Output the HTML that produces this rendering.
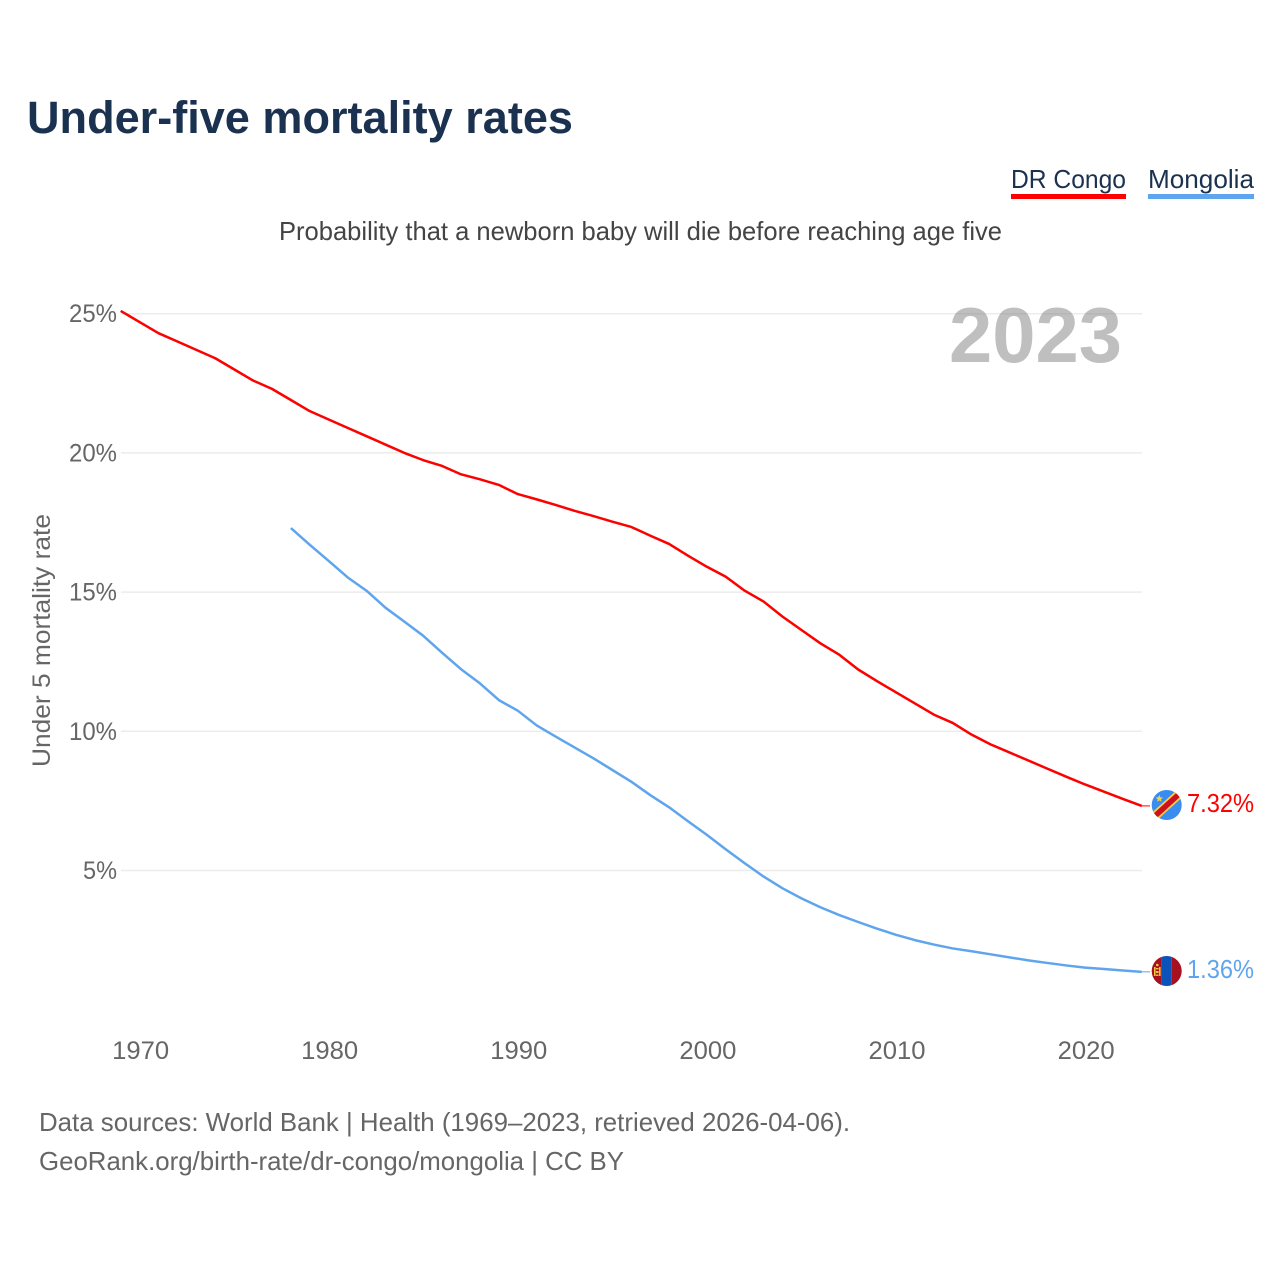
<!DOCTYPE html>
<html lang="en">
<head>
<meta charset="utf-8">
<title>Under-five mortality rates</title>
<style>
html,body{margin:0;padding:0;background:#fff;}
svg{display:block;font-family:"Liberation Sans",sans-serif;}
</style>
</head>
<body>
<svg id="chart" width="1280" height="1280" viewBox="0 0 1280 1280" xmlns="http://www.w3.org/2000/svg">
  <defs>
    <clipPath id="flag-clip-cd"><circle cx="1166.7" cy="805" r="15"/></clipPath>
    <clipPath id="flag-clip-mn"><circle cx="1166.7" cy="971" r="15"/></clipPath>
  </defs>
  <rect width="1280" height="1280" fill="#fff"/>
  <text x="27" y="133" font-size="45" font-weight="700" fill="#1a3150" textLength="546" lengthAdjust="spacingAndGlyphs">Under-five mortality rates</text>
  <g>
    <text x="1011" y="188" font-size="26" fill="#1a3150" textLength="115" lengthAdjust="spacingAndGlyphs">DR Congo</text>
    <rect x="1011" y="194" width="115" height="5" fill="#ff0000"/>
  </g>
  <g>
    <text x="1148" y="188" font-size="26" fill="#1a3150" textLength="106" lengthAdjust="spacingAndGlyphs">Mongolia</text>
    <rect x="1148" y="194" width="106" height="5" fill="#5fa5ee"/>
  </g>
  <text x="279" y="240" font-size="26" fill="#444" textLength="723" lengthAdjust="spacingAndGlyphs">Probability that a newborn baby will die before reaching age five</text>
  <text transform="translate(50,767) rotate(-90)" font-size="25" fill="#666" textLength="253" lengthAdjust="spacingAndGlyphs">Under 5 mortality rate</text>
  <g id="grid"></g>
  <g id="yticks"></g>
  <g id="xticks"></g>
  <text x="949" y="362" font-size="78" font-weight="700" fill="#808080" fill-opacity="0.5" textLength="173" lengthAdjust="spacingAndGlyphs">2023</text>
  <g id="series"></g>

  <g clip-path="url(#flag-clip-cd)">
    <rect x="1151" y="789" width="31" height="32" fill="#3b8cf0"/>
    <line x1="1150" y1="820.5" x2="1183" y2="790.5" stroke="#f7d23c" stroke-width="9"/>
    <line x1="1150" y1="820.5" x2="1183" y2="790.5" stroke="#ce1021" stroke-width="5.5"/>
    <polygon points="1159.3,794.8 1160.3,797.3 1163,797.5 1160.9,799.2 1161.6,801.8 1159.3,800.4 1157,801.8 1157.7,799.2 1155.6,797.5 1158.3,797.3" fill="#f7d23c"/>
  </g>
  <g clip-path="url(#flag-clip-mn)">
    <rect x="1151" y="956" width="10.7" height="30" fill="#a6101f"/>
    <rect x="1161.7" y="956" width="10" height="30" fill="#0b53b8"/>
    <rect x="1171.7" y="956" width="11" height="30" fill="#a6101f"/>
    <rect x="1154" y="967" width="1.6" height="9" fill="#f2c53d"/>
    <rect x="1159" y="967" width="1.6" height="9" fill="#f2c53d"/>
    <rect x="1156" y="968" width="2.6" height="1.4" fill="#f2c53d"/>
    <rect x="1156" y="971" width="2.6" height="2" fill="#f2c53d"/>
    <rect x="1156" y="974.5" width="2.6" height="1.4" fill="#f2c53d"/>
    <circle cx="1157.3" cy="965" r="1.3" fill="#f2c53d"/>
  </g>
  <text x="1187" y="812" font-size="26" fill="#ff0000" textLength="67" lengthAdjust="spacingAndGlyphs">7.32%</text>
  <text x="1187" y="978" font-size="26" fill="#5fa5ee" textLength="67" lengthAdjust="spacingAndGlyphs">1.36%</text>

  <text x="39" y="1131" font-size="26" fill="#666" textLength="811" lengthAdjust="spacingAndGlyphs">Data sources: World Bank | Health (1969–2023, retrieved 2026-04-06).</text>
  <text x="39" y="1170" font-size="26" fill="#666" textLength="585" lengthAdjust="spacingAndGlyphs">GeoRank.org/birth-rate/dr-congo/mongolia | CC BY</text>
</svg>
<script>
const congoYears = [1969,1970,1971,1972,1973,1974,1975,1976,1977,1978,1979,1980,1981,1982,1983,1984,1985,1986,1987,1988,1989,1990,1991,1992,1993,1994,1995,1996,1997,1998,1999,2000,2001,2002,2003,2004,2005,2006,2007,2008,2009,2010,2011,2012,2013,2014,2015,2016,2017,2018,2019,2020,2021,2022,2023];
const congoValues = [25.1,24.7,24.3,24.0,23.7,23.4,23.0,22.6,22.3,21.9,21.5,21.2,20.9,20.6,20.3,20.0,19.74,19.53,19.23,19.05,18.85,18.52,18.33,18.13,17.92,17.73,17.53,17.34,17.03,16.73,16.31,15.91,15.55,15.05,14.66,14.12,13.64,13.16,12.75,12.22,11.8,11.4,11.0,10.6,10.3,9.88,9.53,9.24,8.95,8.66,8.37,8.09,7.83,7.57,7.32];
const mongoliaYears = [1978,1979,1980,1981,1982,1983,1984,1985,1986,1987,1988,1989,1990,1991,1992,1993,1994,1995,1996,1997,1998,1999,2000,2001,2002,2003,2004,2005,2006,2007,2008,2009,2010,2011,2012,2013,2014,2015,2016,2017,2018,2019,2020,2021,2022,2023];
const mongoliaValues = [17.3,16.7,16.12,15.53,15.05,14.44,13.94,13.43,12.82,12.23,11.72,11.12,10.74,10.21,9.81,9.42,9.03,8.61,8.19,7.71,7.27,6.77,6.28,5.76,5.26,4.78,4.36,4.0,3.68,3.4,3.15,2.91,2.69,2.5,2.34,2.2,2.1,1.99,1.88,1.77,1.68,1.59,1.51,1.46,1.41,1.36];
const yTickValues = [5,10,15,20,25];
const xTickValues = [1970,1980,1990,2000,2010,2020];

const NS = 'http://www.w3.org/2000/svg';
function xScale(year){ return 139.6 + (year - 1970) * 18.91; }
function yScale(v){ return 1009.7 - v * 27.84; }

const grid = document.getElementById('grid');
const yticks = document.getElementById('yticks');
const xticks = document.getElementById('xticks');
const series = document.getElementById('series');

yTickValues.forEach(function(v){
  const line = document.createElementNS(NS,'line');
  
  
  line.setAttribute('x1', 121);
  line.setAttribute('x2', 1142);
  line.setAttribute('y1', yScale(v));
  line.setAttribute('y2', yScale(v));
  line.setAttribute('stroke', '#ececec');
  line.setAttribute('stroke-width', 1.5);
  grid.appendChild(line);
  const t = document.createElementNS(NS,'text');
  
  
  t.setAttribute('x', 117);
  t.setAttribute('y', yScale(v) + 8.5);
  t.setAttribute('text-anchor', 'end');
  t.setAttribute('font-size', 25);
  t.setAttribute('fill', '#666');
  t.setAttribute('textLength', v < 10 ? 34 : 48);
  t.setAttribute('lengthAdjust', 'spacingAndGlyphs');
  t.textContent = v + '%';
  yticks.appendChild(t);
});

xTickValues.forEach(function(year){
  const t = document.createElementNS(NS,'text');
  
  
  t.setAttribute('x', xScale(year) + 1);
  t.setAttribute('y', 1059);
  t.setAttribute('text-anchor', 'middle');
  t.setAttribute('font-size', 25);
  t.setAttribute('fill', '#666');
  t.setAttribute('textLength', 57);
  t.setAttribute('lengthAdjust', 'spacingAndGlyphs');
  t.textContent = year;
  xticks.appendChild(t);
});

function points(years, values){
  return years.map(function(y,i){ return xScale(y).toFixed(2) + ',' + yScale(values[i]).toFixed(2); }).join(' ');
}

const congoLine = document.createElementNS(NS,'polyline');


congoLine.setAttribute('points', points(congoYears, congoValues));
congoLine.setAttribute('fill', 'none');
congoLine.setAttribute('stroke', '#ff0000');
congoLine.setAttribute('stroke-width', 2.5);
congoLine.setAttribute('stroke-linejoin', 'round');
series.appendChild(congoLine);

const mongoliaLine = document.createElementNS(NS,'polyline');


mongoliaLine.setAttribute('points', points(mongoliaYears, mongoliaValues));
mongoliaLine.setAttribute('fill', 'none');
mongoliaLine.setAttribute('stroke', '#5fa5ee');
mongoliaLine.setAttribute('stroke-width', 2.5);
mongoliaLine.setAttribute('stroke-linejoin', 'round');
series.appendChild(mongoliaLine);

const congoConnector = document.createElementNS(NS,'line');


congoConnector.setAttribute('x1', xScale(2023));
congoConnector.setAttribute('x2', 1150);
congoConnector.setAttribute('y1', yScale(congoValues[congoValues.length-1]));
congoConnector.setAttribute('y2', yScale(congoValues[congoValues.length-1]));
congoConnector.setAttribute('stroke', '#ff0000');
congoConnector.setAttribute('stroke-width', 1);
series.appendChild(congoConnector);

const mongoliaConnector = document.createElementNS(NS,'line');


mongoliaConnector.setAttribute('x1', xScale(2023));
mongoliaConnector.setAttribute('x2', 1150);
mongoliaConnector.setAttribute('y1', yScale(mongoliaValues[mongoliaValues.length-1]));
mongoliaConnector.setAttribute('y2', yScale(mongoliaValues[mongoliaValues.length-1]));
mongoliaConnector.setAttribute('stroke', '#5fa5ee');
mongoliaConnector.setAttribute('stroke-width', 1);
series.appendChild(mongoliaConnector);
</script>
</body>
</html>
